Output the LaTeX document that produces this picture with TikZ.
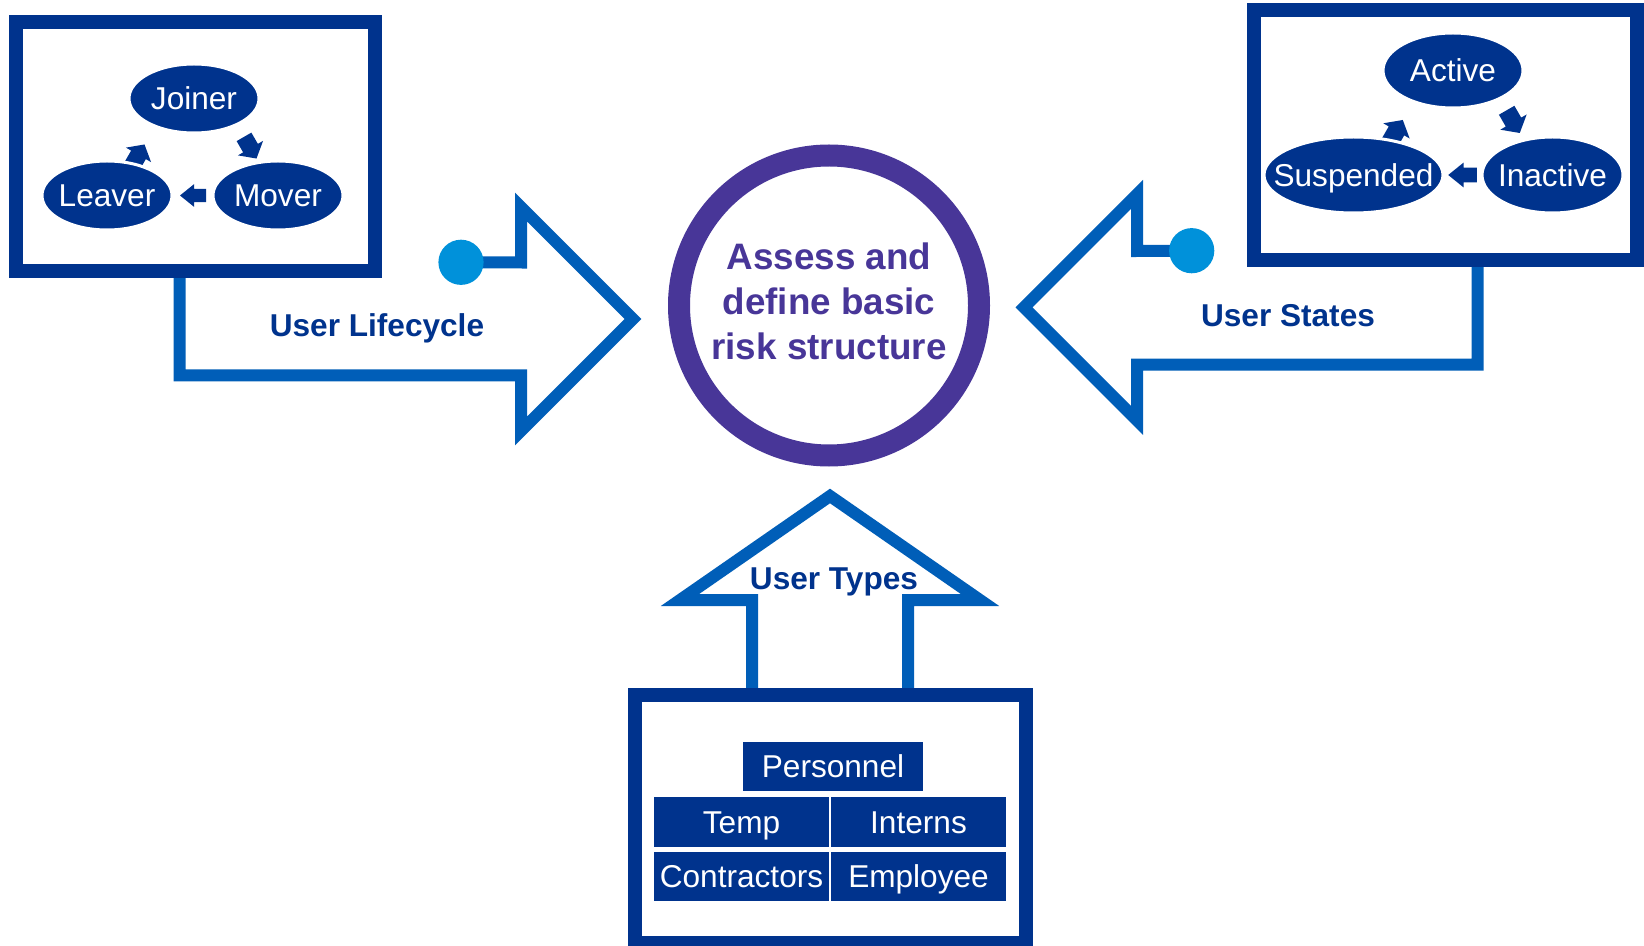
\documentclass[tikz,border=0pt]{standalone}
\usepackage{fontspec}
\setmainfont{Liberation Sans}
\usetikzlibrary{shapes.geometric}
\definecolor{kblue}{HTML}{00338D}
\definecolor{mblue}{HTML}{005EB8}
\definecolor{lblue}{HTML}{0091DA}
\definecolor{kpurple}{HTML}{483698}
\begin{document}
\begin{tikzpicture}[x=0.5pt,y=-0.5pt,
  frame/.style={rectangle, draw=kblue, line width=7pt, fill=white, inner sep=0pt},
  pipe/.style={draw=mblue, line width=6pt, miter limit=10, line join=miter},
  ell/.style={ellipse, fill=kblue, draw=white, line width=1.5pt, inner sep=0pt, text=white,
    font=\fontsize{15.8}{19}\selectfont, text height=11.4pt, text depth=0pt},
  cell/.style={rectangle, fill=kblue, inner sep=0pt, text=white,
    font=\fontsize{15.8}{19}\selectfont, text height=11.4pt, text depth=0pt},
  lbl/.style={text=kblue, font=\bfseries\fontsize{15.8}{19}\selectfont, anchor=base, inner sep=0pt},
  coretext/.style={text=kpurple, font=\bfseries\fontsize{18.4}{22}\selectfont, anchor=base, inner sep=0pt},
  dot/.style={circle, fill=lblue, inner sep=0pt, minimum size=22.6pt},
  cyc/.pic={\fill[kblue] (-13,-6.7) -- (-1,-6.7) -- (-1,-11.3) -- (13,0) -- (-1,11.3) -- (-1,6.7) -- (-13,6.7) -- cycle;},
  cycd/.pic={\fill[kblue] (-14,-8.5) -- (-1,-8.5) -- (-1,-14.5) -- (11,0) -- (-1,14.5) -- (-1,8.5) -- (-14,8.5) -- cycle;}
]
\useasboundingbox[fill=white] (0,0) rectangle (1644,946);

% coordinates
\coordinate (dL) at (461,262.3);
\coordinate (dR) at (1191.7,250.7);

% big arrows
\draw[pipe] (179.7,271) -- (179.7,375.5) -- (521,375.5) -- (521,431) -- (633,319) -- (521,207) -- (521,262.5) -- (dL);
\draw[pipe] (1477.7,262) -- (1477.7,364.7) -- (1137,364.7) -- (1137,420.3) -- (1024,307.3) -- (1137,194.3) -- (1137,251) -- (dR);
\draw[pipe] (752,692) -- (752,600) -- (680,600) -- (830,496) -- (980,600) -- (908,600) -- (908,692);

% frames
\node[frame, minimum width=179.75pt, minimum height=124.5pt] (lcbox) at (195.25,147) {};
\node[frame, minimum width=191.65pt, minimum height=124.75pt] (stbox) at (1445.35,135.25) {};
\node[frame, minimum width=195.5pt, minimum height=124pt] (tybox) at (830,818.5) {};

% dots
\node[dot] (dotL) at (dL) {};
\node[dot] (dotR) at (dR) {};

% central circle
\node[circle, draw=kpurple, line width=11pt, fill=white, minimum size=150pt, inner sep=0pt] (core) at (829,305.5) {};
\node[coretext] (core1) at (829,269.3) {Assess and};
\node[coretext] (core2) at (829,315) {define basic};
\node[coretext] (core3) at (829,360) {risk structure};

% labels
\node[lbl] (lblL) at (377,337) {User Lifecycle};
\node[lbl] (lblR) at (1288,327) {User States};
\node[lbl] (lblT) at (834,589) {User Types};

% lifecycle cycle
\pic[rotate=180] at (193,195.5) {cyc};
\pic[rotate=60] at (139,154) {cycd};
\pic[rotate=-60] at (251,149) {cycd};
\node[ell, minimum width=65pt, minimum height=34.5pt] (joiner) at (194,98.5) {\makebox[0pt]{Joiner}};
\node[ell, minimum width=65pt, minimum height=34.5pt] (leaver) at (107,195.5) {\makebox[0pt]{Leaver}};
\node[ell, minimum width=65pt, minimum height=34.5pt] (mover) at (278,195.5) {\makebox[0pt]{Mover}};

% states cycle
\pic[rotate=180, scale=1.1] at (1462.5,175) {cyc};
\pic[rotate=60, scale=1.05] at (1397,130) {cycd};
\pic[rotate=-60, scale=1.05] at (1514,123) {cycd};
\node[ell, minimum width=70pt, minimum height=37.5pt] (active) at (1453,70.5) {\makebox[0pt]{Active}};
\node[ell, minimum width=89.5pt, minimum height=38pt] (suspended) at (1353.5,175) {\makebox[0pt]{Suspended}};
\node[ell, minimum width=70.5pt, minimum height=38pt] (inactive) at (1552.5,175) {\makebox[0pt]{Inactive}};

% user types
\node[cell, minimum width=90pt, minimum height=24.35pt] (personnel) at (833,766.4) {Personnel};
\node[cell, minimum width=87.5pt, minimum height=24.6pt] (temp) at (741.5,821.9) {Temp};
\node[cell, minimum width=87.5pt, minimum height=24.6pt] (interns) at (918.5,821.9) {Interns};
\node[cell, minimum width=87.5pt, minimum height=24.4pt] (contractors) at (741.5,876.4) {Contractors};
\node[cell, minimum width=87.5pt, minimum height=24.4pt] (employee) at (918.5,876.4) {Employee};
\end{tikzpicture}
\end{document}
